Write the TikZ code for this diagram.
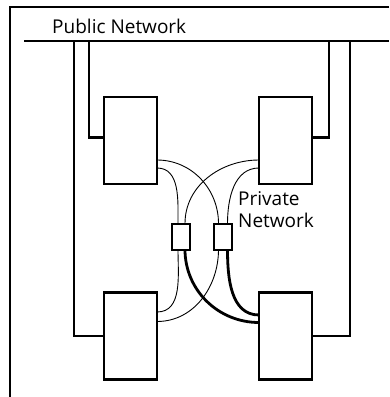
\documentclass[tikz,border=0pt]{standalone}
\usepackage{fontspec}
\setmainfont{Open Sans}
\begin{document}
\begin{tikzpicture}[x=1pt,y=-1pt,
  node/.style={draw,line width=2.8pt,minimum width=53pt,minimum height=87pt,inner sep=0,outer sep=0},
  switchbox/.style={draw,line width=2pt,minimum width=18pt,minimum height=26pt,inner sep=0,outer sep=0},
  frameline/.style={line width=1.5pt},
  netline/.style={line width=2.2pt},
  thinlink/.style={line width=0.9pt},
  thicklink/.style={line width=2.8pt},
  label/.style={font=\fontsize{19}{22}\selectfont,inner sep=0,anchor=base west,align=left}]
\useasboundingbox (0,0) rectangle (389,397);

% outer frame
\coordinate (fcorner) at (10,7);
\coordinate (fright) at (389,7);
\coordinate (fbottom) at (10,397);
\draw[frameline] (fright) -- (fcorner) -- (fbottom);

% public network bus
\coordinate (pubL) at (24,41);
\coordinate (pubR) at (389,41);
\draw[netline] (pubL) -- (pubR);
\node[label] (pubtxt) at (52,33) {Public Network};

% cluster nodes
\node[node] (tl) at (130.5,140.5) {};
\node[node] (tr) at (285.5,140.5) {};
\node[node] (bl) at (130.5,336) {};
\node[node] (br) at (285.5,336) {};

% private network switches
\node[switchbox] (sa) at (180.5,236.5) {};
\node[switchbox] (sb) at (222.5,236.5) {};
\node[label] (privtxt) at (238,227) {Private\\Network};

% public network drops
\draw[netline] (74,41) |- (bl.west);
\draw[netline] (89,41) |- ([yshift=3pt]tl.west);
\draw[netline] (329,41) |- ([yshift=3pt]tr.east);
\draw[netline] (350,41) |- (br.west -| br.east);

% heartbeat links, upper nodes
\draw[thinlink] ([yshift=-19.5pt]tl.east) to[out=0,in=90] ([xshift=-4pt]sb.north);
\draw[thinlink] ([yshift=-27.5pt]tl.east) to[out=0,in=90] ([xshift=-2.5pt]sa.north);
\draw[thinlink] ([yshift=-19.5pt]tr.west) to[out=180,in=90] ([xshift=4.5pt]sa.north);
\draw[thinlink] ([yshift=-27.5pt]tr.west) to[out=180,in=90] ([xshift=5pt]sb.north);

% heartbeat links, lower nodes
\draw[thinlink] ([xshift=-2.5pt]sa.south) to[out=-90,in=0] ([yshift=24pt]bl.east);
\draw[thinlink] ([xshift=-4pt]sb.south) to[out=-90,in=0] ([yshift=14.5pt]bl.east);
\draw[thicklink] ([xshift=4.5pt]sa.south) to[out=-90,in=180] ([yshift=13.5pt]br.west);
\draw[thicklink] ([xshift=5pt]sb.south) to[out=-90,in=180] ([yshift=21pt]br.west);
\end{tikzpicture}
\end{document}
